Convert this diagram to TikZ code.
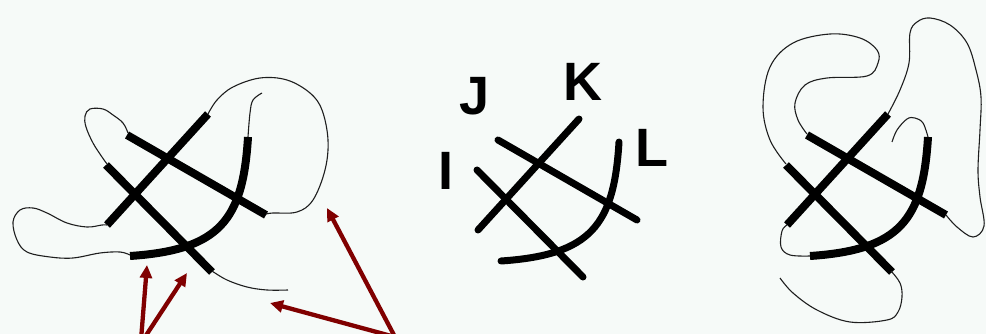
\documentclass[tikz,border=0pt]{standalone}
\usepackage{fontspec}
\setmainfont{Liberation Sans}
\usetikzlibrary{arrows.meta}
\definecolor{bgc}{RGB}{246,250,248}
\definecolor{arrc}{RGB}{128,0,0}
\definecolor{thinc}{RGB}{30,30,30}
\tikzset{
  strand/.style={line width=8pt, black},
  thinline/.style={line width=1.1pt, thinc},
  redarrow/.style={line width=4.3pt, arrc, -{Triangle[length=13pt,width=12pt]}},
  letter/.style={inner sep=0pt, font=\fontsize{54}{54}\selectfont\bfseries}
}
\newcommand\mytangle{%
  \draw[strand] (106,165) -- (212,272);
  \draw[strand] (127,135) -- (266,215);
  \draw[strand] (107,225) -- (208,114);
  \draw[strand] (248,137) .. controls (243,220) and (220,250) .. (130,256);
}
\begin{document}
\begin{tikzpicture}[x=1pt,y=-1pt]
\useasboundingbox (0,0) rectangle (986,334);
\fill[bgc] (0,0) rectangle (986,334);
\clip (0,0) rectangle (986,334);

% ---------- figure 1 ----------
\mytangle
\draw[thinline] plot[smooth, tension=0.6] coordinates {(128,133) (123,123) (113,115) (103,109) (90,109) (85,116) (86,127) (93,143) (102,157) (107,164)};
\draw[thinline] plot[smooth, tension=0.6] coordinates {(266,214) (273,213) (297,212) (313,200) (325,170) (328,140) (322,110) (310,93) (287,80) (260,78) (233,87) (217,100) (208,114)};
\draw[thinline] plot[smooth, tension=0.6] coordinates {(248,137) (250,113) (253,100) (262,93)};
\draw[thinline] plot[smooth, tension=0.6] coordinates {(107,225) (102,225) (87,227) (67,223) (47,213) (33,208) (20,210) (13,222) (17,240) (27,252) (50,257) (73,258) (100,253) (120,252) (130,255)};
\draw[thinline] plot[smooth, tension=0.6] coordinates {(212,271) (227,280) (247,287) (267,290) (288,290)};

% ---------- figure 2 ----------
\begin{scope}[shift={(371,5)}, line cap=round, strand/.append style={line width=7pt}]
\mytangle
\end{scope}
\node[letter] (J) at (475,96) {J};
\node[letter] (K) at (583,82) {K};
\node[letter] (I) at (446,171) {I};
\node[letter] (L) at (652,148) {L};

% ---------- figure 3 ----------
\begin{scope}[shift={(680,0)}]
\mytangle
\end{scope}
\draw[thinline] plot[smooth, tension=0.6] coordinates {(807,134) (798,120) (795,103) (805,85) (827,78) (867,76) (878,63) (877,50) (860,38) (830,34) (793,43) (770,67) (763,107) (770,140) (786,164)};
\draw[thinline] plot[smooth, tension=0.6] coordinates {(888,114) (900,90) (909,63) (910,33) (917,22) (930,18) (950,25) (967,43) (976,70) (981,97) (980,130) (978,170) (980,197) (984,226) (973,237) (957,227) (946,215)};
\draw[thinline] plot[smooth, tension=0.6] coordinates {(928,137) (923,123) (915,118) (907,119) (897,130) (892,142)};
\draw[thinline] plot[smooth, tension=0.6] coordinates {(787,225) (782,231) (781,247) (790,255) (810,256)};
\draw[thinline] plot[smooth, tension=0.6] coordinates {(891,271) (900,283) (902,297) (898,312) (887,320) (850,322) (817,310) (793,293) (780,278)};

% ---------- arrows ----------
\coordinate (a1s) at (141,340);
\coordinate (a1e) at (147,265);
\coordinate (a2s) at (143,340);
\coordinate (a2e) at (187,273);
\coordinate (a3s) at (395,337);
\coordinate (a3e) at (270,303);
\coordinate (a4s) at (395,337);
\coordinate (a4e) at (327,208);
\draw[redarrow] (a1s) -- (a1e);
\draw[redarrow] (a2s) -- (a2e);
\draw[redarrow] (a3s) -- (a3e);
\draw[redarrow] (a4s) -- (a4e);
\end{tikzpicture}
\end{document}
